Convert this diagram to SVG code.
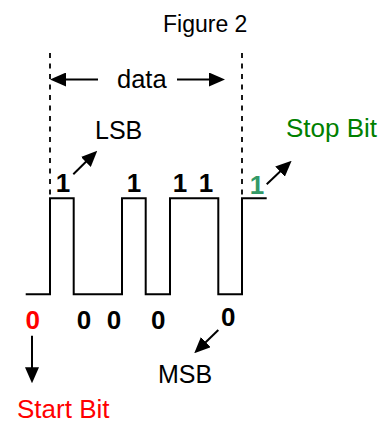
<svg xmlns="http://www.w3.org/2000/svg" width="381" height="422" viewBox="0 0 381 422">
<defs>
<style>
text{font-family:"Liberation Sans",Arial,sans-serif;}
.lbl{font-size:25px;fill:#000;}
.bit{font-size:26px;font-weight:bold;text-anchor:middle;fill:#000;}
.arr{stroke:#000;stroke-width:2;fill:none;marker-end:url(#ah);}
.dash{stroke:#000;stroke-width:1.8;stroke-dasharray:5 5.5;fill:none;}
</style>
<marker id="ah" markerUnits="userSpaceOnUse" markerWidth="16" markerHeight="14" refX="3" refY="7" orient="auto">
<path d="M0,0 L16,7 L0,14 Z" fill="#000"/>
</marker>
</defs>
<rect width="381" height="422" fill="#fff"/>
<g id="title"><text x="163" y="32" style="font-size:23px">Figure 2</text></g>
<g id="guides">
<line class="dash" x1="50" y1="53" x2="50" y2="198"/>
<line class="dash" x1="242" y1="53" x2="242" y2="198"/>
</g>
<g id="waveform">
<path d="M25.7 294.3 H50 V198.3 H73.7 V294.3 H122 V198.3 H145.7 V294.3 H170 V198.3 H218.3 V294.3 H242 V198.3 H266.7" stroke="#000" stroke-width="2" fill="none"/>
</g>
<g id="data"><text class="lbl" x="117" y="87.5" style="font-size:25.5px">data</text></g>
<g id="lsb"><text class="lbl" x="95" y="138.5">LSB</text></g>
<g id="stopbit"><text class="lbl" x="286" y="136.5" style="font-size:26px;fill:#008000">Stop Bit</text></g>
<g id="msb"><text class="lbl" x="158" y="382.5">MSB</text></g>
<g id="startbit"><text class="lbl" x="17" y="417.5" style="font-size:26px;fill:#ff0000">Start Bit</text></g>
<g id="ones">
<text class="bit" x="63" y="191.5">1</text>
<text class="bit" x="134" y="191.5">1</text>
<text class="bit" x="180" y="191.5">1</text>
<text class="bit" x="206" y="191.5">1</text>
<text class="bit" x="257" y="194" style="fill:#339966">1</text>
</g>
<g id="zeros">
<text class="bit" x="32.7" y="329" style="fill:#ff0000">0</text>
<text class="bit" x="84" y="329">0</text>
<text class="bit" x="114" y="329">0</text>
<text class="bit" x="158.3" y="329">0</text>
<text class="bit" x="228.3" y="326">0</text>
</g>
<g id="connectors">
<line class="arr" x1="98" y1="79.5" x2="63" y2="79.5"/>
<line class="arr" x1="177" y1="79.5" x2="212" y2="79.5"/>
<line class="arr" x1="73.3" y1="174.3" x2="88" y2="159.8"/>
<line class="arr" x1="266.7" y1="184.3" x2="282.2" y2="169.6"/>
<line class="arr" x1="218.3" y1="330" x2="203.6" y2="344.2"/>
<line class="arr" x1="32" y1="335.7" x2="32" y2="370.3"/>
</g>
</svg>
